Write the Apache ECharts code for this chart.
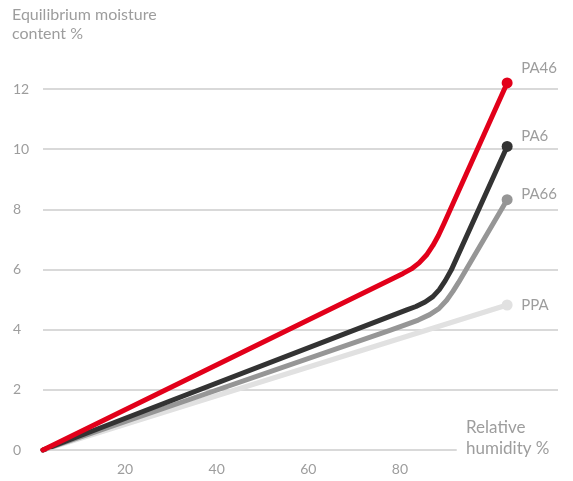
<!DOCTYPE html>
<html>
<head>
<meta charset="utf-8">
<script src="https://cdn.jsdelivr.net/npm/echarts@6/dist/echarts.min.js"></script>
<style>
  html, body { margin: 0; padding: 0; background: #fff; }
  #chart { width: 573px; height: 481px; }
</style>
</head>
<body>
<div id="chart"></div>
<script>
  // values: [relative humidity %, moisture %]
  const seriesNames = ['PPA', 'PA66', 'PA6', 'PA46']
  const ppa = [[2.1, 0], [103.4, 4.82]]
  const pa66 = [[2.1, 0], [77.8, 3.98], [81, 4.15], [84, 4.32], [86.5, 4.5], [88.5, 4.7], [90.2, 4.98], [91.6, 5.28], [92.8, 5.57], [103.4, 8.32]]
  const pa6 = [[2.1, 0], [81.5, 4.66], [83.5, 4.77], [85.5, 4.92], [87.2, 5.1], [88.6, 5.33], [89.9, 5.63], [91.2, 5.98], [103.4, 10.09]]
  const pa46 = [[2.1, 0], [80.7, 5.87], [82.5, 6.02], [84.2, 6.22], [85.8, 6.48], [87.2, 6.8], [88.4, 7.13], [89.6, 7.52], [103.4, 12.2]]
  const xTicks = [20, 40, 60, 80]

  const colors = ['#e1e1e1', '#969696', '#333333', '#e2001a']
  const labelOffsets = [0, -6, -10, -15]
  const textColor = '#9d9d9d'
  const font = 'Lato, "Open Sans", sans-serif'

  const chart = echarts.init(document.getElementById('chart'))

  const series = [ppa, pa66, pa6, pa46].map((data, i) => ({
    name: seriesNames[i],
    type: 'line',
    data: data,
    symbol: 'circle',
    symbolSize: (v, p) => (p.dataIndex === data.length - 1 ? 11 : 0),
    clip: false,
    silent: true,
    lineStyle: { width: 5, color: colors[i], cap: 'round', join: 'round' },
    itemStyle: { color: colors[i] },
    endLabel: {
      show: true,
      formatter: '{a}',
      distance: 14,
      offset: [0, labelOffsets[i]],
      color: textColor,
      fontSize: 15,
      fontFamily: font
    },
    z: 2 + i
  }))

  // short zero line along the x axis
  series[0].markLine = {
    silent: true,
    symbol: 'none',
    label: { show: false },
    lineStyle: { color: '#cccccc', width: 1.5, type: 'solid' },
    data: [[{ coord: [2.1, 0] }, { coord: [92.4, 0] }]]
  }

  chart.setOption({
    animation: false,
    title: [
      {
        text: 'Equilibrium moisture\ncontent %',
        left: 12, top: 5, padding: 0,
        textStyle: { color: textColor, fontSize: 16, fontWeight: 'normal', fontFamily: font, lineHeight: 19.5 }
      },
      {
        text: 'Relative\nhumidity %',
        left: 466, top: 417, padding: 0,
        textStyle: { color: textColor, fontSize: 17, fontWeight: 'normal', fontFamily: font, lineHeight: 21 }
      }
    ],
    grid: { left: 43, right: 15, top: 89, bottom: 31 },
    xAxis: {
      type: 'value',
      min: 2.1,
      max: 114.5,
      axisLine: { show: false },
      axisTick: { show: false },
      splitLine: { show: false },
      axisLabel: {
        customValues: xTicks,
        color: textColor,
        fontSize: 14,
        fontFamily: font,
        margin: 12
      }
    },
    yAxis: {
      type: 'value',
      min: 0,
      max: 12,
      interval: 2,
      axisLine: { show: false },
      axisTick: { show: false },
      splitLine: { showMinLine: false, lineStyle: { color: '#cccccc', width: 1.5 } },
      axisLabel: {
        align: 'left',
        margin: 30,
        color: textColor,
        fontSize: 14,
        fontFamily: font
      }
    },
    series: series
  })
</script>
</body>
</html>
